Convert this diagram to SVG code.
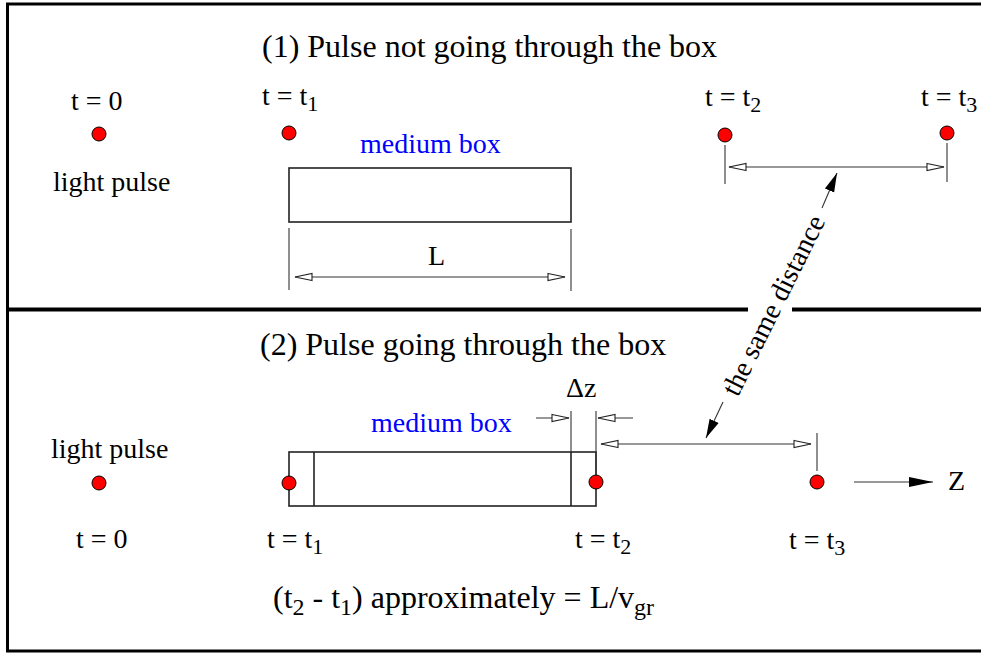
<svg xmlns="http://www.w3.org/2000/svg" width="981" height="654" viewBox="0 0 981 654">
<style>
text{font-family:"Liberation Serif","Times New Roman",serif;fill:#000}
.t{font-size:28px}
.h{font-size:32px}
.blue{fill:#0000ff}
.frame{stroke:#000;fill:none;stroke-linecap:butt}
.box{stroke:#222;stroke-width:1.6;fill:none}
.dim{stroke:#333;stroke-width:1.1;fill:none}
.ext{stroke:#333;stroke-width:1.1;fill:none}
.dot{fill:#ff0000;stroke:#000;stroke-width:1}
</style>
<defs>
<marker id="open" markerUnits="userSpaceOnUse" viewBox="0 -5 19 10" markerWidth="19" markerHeight="10" refX="18" refY="0" orient="auto-start-reverse">
<path d="M1,-3.5 L18,0 L1,3.5 Z" fill="#fff" stroke="#222" stroke-width="1.1"/>
</marker>
<marker id="solid" markerUnits="userSpaceOnUse" viewBox="0 -6 20 12" markerWidth="20" markerHeight="12" refX="19" refY="0" orient="auto">
<path d="M0,-5 L19,0 L0,5 Z" fill="#000"/>
</marker>
<marker id="solidZ" markerUnits="userSpaceOnUse" viewBox="0 -6 25 12" markerWidth="25" markerHeight="12" refX="24" refY="0" orient="auto">
<path d="M0,-5 L24,0 L0,5 Z" fill="#000"/>
</marker>
</defs>

<g id="frame">
<path class="frame" stroke-width="3" d="M6,4 H981"/>
<path class="frame" stroke-width="3" d="M7.5,3 V652"/>
<path class="frame" stroke-width="3" d="M6,651 H981"/>
<path class="frame" stroke-width="4" d="M6,309.5 H748 M792,309.5 H981"/>
</g>

<g id="section1">
<text class="h" x="262" y="57">(1) Pulse not going through the box</text>
<g id="pulse1-t0">
<text class="t" x="71" y="110">t = 0</text>
<circle class="dot" cx="99" cy="134" r="7"/>
<text class="t" x="53" y="191">light pulse</text>
</g>
<g id="pulse1-t1">
<text class="t" x="262" y="105">t = t<tspan font-size="22" dy="6">1</tspan></text>
<circle class="dot" cx="289" cy="133" r="7"/>
</g>
<g id="box1">
<text class="t blue" x="360" y="153">medium box</text>
<rect class="box" x="289" y="168" width="282" height="54"/>
</g>
<g id="pulse1-t2">
<text class="t" x="705" y="106">t = t<tspan font-size="22" dy="6">2</tspan></text>
<circle class="dot" cx="725" cy="135" r="7"/>
</g>
<g id="pulse1-t3">
<text class="t" x="921" y="106">t = t<tspan font-size="22" dy="6">3</tspan></text>
<circle class="dot" cx="947" cy="133" r="7"/>
</g>
<text class="t" x="428" y="265">L</text>
</g>

<g id="section2">
<text class="h" x="260" y="355">(2) Pulse going through the box</text>
<g id="pulse2-t0">
<text class="t" x="51" y="458">light pulse</text>
<circle class="dot" cx="99" cy="483" r="7"/>
<text class="t" x="76" y="548">t = 0</text>
</g>
<g id="box2">
<text class="t blue" x="371" y="432">medium box</text>
<rect class="box" x="289" y="452" width="307" height="54"/>
<path class="box" d="M314,452 V506 M571,452 V506"/>
</g>
<g id="pulse2-t1">
<circle class="dot" cx="289" cy="483" r="7"/>
<text class="t" x="267" y="548">t = t<tspan font-size="22" dy="6">1</tspan></text>
</g>
<g id="pulse2-t2">
<circle class="dot" cx="596" cy="482" r="7"/>
<text class="t" x="575" y="548">t = t<tspan font-size="22" dy="6">2</tspan></text>
</g>
<g id="pulse2-t3">
<circle class="dot" cx="817" cy="482" r="7"/>
<text class="t" x="789" y="549">t = t<tspan font-size="22" dy="6">3</tspan></text>
</g>
<text class="t" x="566" y="397">Δz</text>
<text class="t" x="948" y="490">Z</text>
<text style="font-size:32px" x="273" y="608">(t<tspan font-size="24" dy="7">2</tspan><tspan dy="-7"> - t</tspan><tspan font-size="24" dy="7">1</tspan><tspan dy="-7">) approximately = L/v</tspan><tspan font-size="24" dy="7">gr</tspan></text>
</g>

<text class="t" transform="translate(773,305) rotate(-63.5)" text-anchor="middle" dy="0.35em">the same distance</text>

<g id="connectors">
<path class="ext" d="M289,228 V290 M571,229 V291"/>
<path class="dim" d="M295,277 H565" marker-start="url(#open)" marker-end="url(#open)"/>
<path class="ext" d="M725,145 V184 M947,143 V182"/>
<path class="dim" d="M729,167 H944" marker-start="url(#open)" marker-end="url(#open)"/>
<path class="ext" d="M571,411 V452 M596,411 V475"/>
<path class="dim" d="M536,418 H569" marker-end="url(#open)"/>
<path class="dim" d="M633,418 H598" marker-end="url(#open)"/>
<path class="ext" d="M817,433 V471"/>
<path class="dim" d="M601,444 H811" marker-start="url(#open)" marker-end="url(#open)"/>
<path class="dim" stroke="#000" d="M822,208 L837,173" marker-end="url(#solid)"/>
<path class="dim" stroke="#000" d="M723,402 L706,438" marker-end="url(#solid)"/>
<path class="dim" stroke="#000" d="M854,482 H933" marker-end="url(#solidZ)"/>
</g>
</svg>
